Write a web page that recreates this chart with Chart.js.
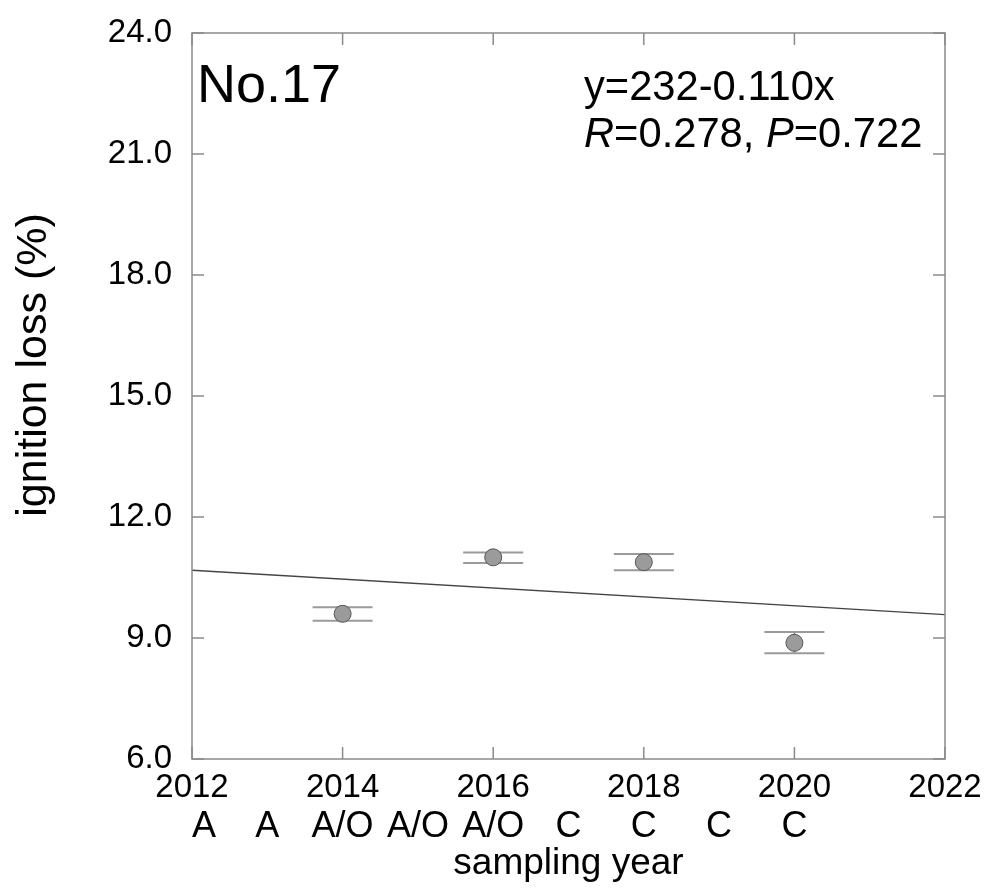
<!DOCTYPE html>
<html>
<head>
<meta charset="utf-8">
<script src="https://cdn.jsdelivr.net/npm/chart.js@4.4.1/dist/chart.umd.min.js"></script>
<style>
  html, body { margin: 0; padding: 0; background: #fff; }
</style>
</head>
<body>
<canvas id="chartLoss" width="990" height="888"></canvas>
<script>
// mean ignition loss per sampling year, with the ends of the error bars
let years = [2014, 2016, 2018, 2020];
let lossMean = [9.60, 11.00, 10.88, 8.88];
let lossUpper = [9.76, 11.12, 11.08, 9.15];
let lossLower = [9.43, 10.86, 10.68, 8.62];

// sample type for each year under the axis
let catYears = [2012, 2013, 2014, 2015, 2016, 2017, 2018, 2019, 2020];
let catLabels = ['A', 'A', 'A/O', 'A/O', 'A/O', 'C', 'C', 'C', 'C'];

// regression  y = a + b*x
let intercept = 232;
let slope = -0.110;
let rValue = '0.278';
let pValue = '0.722';
let siteName = 'No.17';

let xMin = 2012, xMax = 2022, xStep = 2;
let yMin = 6, yMax = 24, yStep = 3;

const FONT = "'Liberation Sans', Arial, Helvetica, sans-serif";
const FRAME = '#8a8a8a';

let points = years.map((x, i) => ({ x: x, y: lossMean[i] }));
let fitLine = [xMin, xMax].map(x => ({ x: x, y: intercept + slope * x }));

// frame, inward ticks, error bars and the extra texts
const decor = {
    id: 'decor',
    beforeDatasetsDraw(chart) {
        const { ctx, scales } = chart;
        const xs = scales.x, ys = scales.y;
        ctx.save();

        // error bars: wide caps, thin stem hidden behind the marker
        years.forEach((yr, i) => {
            const px = xs.getPixelForValue(yr);
            const top = ys.getPixelForValue(lossUpper[i]);
            const bot = ys.getPixelForValue(lossLower[i]);
            ctx.strokeStyle = '#777';
            ctx.lineWidth = 1.5;
            ctx.beginPath();
            ctx.moveTo(px, top); ctx.lineTo(px, bot);
            ctx.stroke();
            ctx.strokeStyle = '#9a9a9a';
            ctx.lineWidth = 2;
            ctx.beginPath();
            ctx.moveTo(px - 30, top); ctx.lineTo(px + 30, top);
            ctx.moveTo(px - 30, bot); ctx.lineTo(px + 30, bot);
            ctx.stroke();
        });
        ctx.restore();
    },
    afterDraw(chart) {
        const { ctx, chartArea: a, scales } = chart;
        const xs = scales.x, ys = scales.y;
        const tick = 12;
        ctx.save();

        // box
        ctx.strokeStyle = FRAME;
        ctx.lineWidth = 1.5;
        ctx.strokeRect(a.left, a.top, a.right - a.left, a.bottom - a.top);

        // ticks pointing into the plot on all four sides
        ctx.beginPath();
        for (let v = xMin; v <= xMax; v += xStep) {
            const px = xs.getPixelForValue(v);
            ctx.moveTo(px, a.bottom); ctx.lineTo(px, a.bottom - tick);
            ctx.moveTo(px, a.top); ctx.lineTo(px, a.top + tick);
        }
        for (let v = yMin; v <= yMax; v += yStep) {
            const py = ys.getPixelForValue(v);
            ctx.moveTo(a.left, py); ctx.lineTo(a.left + tick, py);
            ctx.moveTo(a.right, py); ctx.lineTo(a.right - tick, py);
        }
        ctx.stroke();

        ctx.fillStyle = '#000';

        // sample types under the years
        ctx.font = '36px ' + FONT;
        ctx.textBaseline = 'alphabetic';
        ctx.textAlign = 'center';
        catYears.forEach((yr, i) => {
            let px = xs.getPixelForValue(yr);
            const w = ctx.measureText(catLabels[i]).width;
            if (px - w / 2 < a.left) px = a.left + w / 2;
            ctx.fillText(catLabels[i], px, a.bottom + 78);
        });

        // y axis title
        ctx.save();
        ctx.font = '43px ' + FONT;
        ctx.translate(a.left - 146, (a.top + a.bottom) / 2 - 31);
        ctx.rotate(-Math.PI / 2);
        ctx.textAlign = 'center';
        ctx.fillText('ignition loss (%)', 0, 0);
        ctx.restore();

        // site name
        ctx.textAlign = 'left';
        ctx.font = '54px ' + FONT;
        ctx.fillText(siteName, a.left + 5, a.top + 69);

        // regression equation and statistics
        ctx.font = '41.7px ' + FONT;
        const ex = a.left + 392;
        ctx.fillText('y=' + intercept + '-' + Math.abs(slope).toFixed(3) + 'x', ex, a.top + 67);
        let y2 = a.top + 114;
        let cx = ex;
        const parts = [['R', true], ['=' + rValue + ', ', false], ['P', true], ['=' + pValue, false]];
        parts.forEach(([t, it]) => {
            ctx.font = (it ? 'italic ' : '') + '41.7px ' + FONT;
            ctx.fillText(t, cx, y2);
            cx += ctx.measureText(t).width;
        });
        ctx.restore();
    }
};

let ctxLoss = document.getElementById('chartLoss');

let myChart = new Chart(ctxLoss, {
    data: {
        datasets: [{
            type: 'scatter',
            data: points,
            pointRadius: 8.5,
            pointBackgroundColor: '#9b9b9b',
            pointBorderColor: '#555',
            pointBorderWidth: 1,
            order: 0
        }, {
            type: 'line',
            data: fitLine,
            borderColor: '#444',
            borderWidth: 1.3,
            pointRadius: 0,
            fill: false,
            order: 1
        }]
    },
    options: {
        responsive: false,
        animation: false,
        events: [],
        layout: { padding: { top: 33, right: 45, left: 0, bottom: 0 } },
        plugins: { legend: { display: false }, tooltip: { enabled: false } },
        scales: {
            x: {
                type: 'linear',
                min: xMin,
                max: xMax,
                grid: { display: false, drawTicks: false },
                border: { display: false },
                ticks: {
                    stepSize: xStep,
                    padding: 9,
                    color: '#000',
                    font: { family: FONT, size: 33 },
                    maxRotation: 0,
                    callback: v => String(v)
                },
                title: {
                    display: true,
                    text: 'sampling year',
                    color: '#000',
                    font: { family: FONT, size: 37 },
                    padding: { top: 0, bottom: 2 }
                },
                afterFit(scale) {
                    scale.height = 129;
                    scale.paddingLeft = 0;
                    scale.paddingRight = 0;
                }
            },
            y: {
                min: yMin,
                max: yMax,
                grid: { display: false, drawTicks: false },
                border: { display: false },
                ticks: {
                    stepSize: yStep,
                    padding: 20,
                    color: '#000',
                    font: { family: FONT, size: 33 },
                    callback: v => v.toFixed(1)
                },
                afterFit(scale) {
                    scale.width = 192;
                    scale.paddingTop = 0;
                    scale.paddingBottom = 0;
                }
            }
        }
    },
    plugins: [decor]
});
</script>
</body>
</html>
